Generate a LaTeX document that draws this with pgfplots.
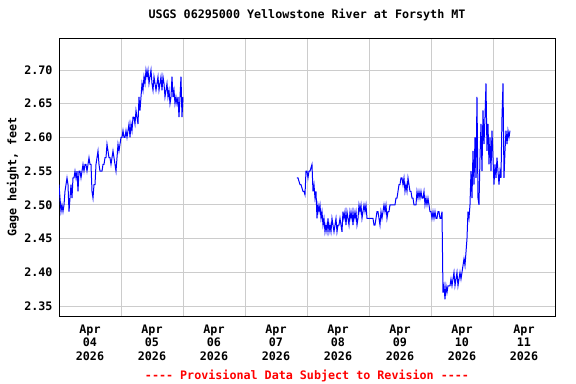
\documentclass[border=0pt]{standalone}
\usepackage{fontspec}
\setmainfont{DejaVu Sans Mono}
\usepackage{pgfplots}
\pgfplotsset{compat=1.18}
\usepackage{pgfplotstable}
\definecolor{gridgray}{RGB}{204,204,204}

% gage height, one reading per 1/62 day, starting Apr 04 00:00
\pgfplotstableread[row sep=\\]{
v\\
2.53\\ 2.51\\ 2.49\\ 2.50\\ 2.49\\ 2.50\\ 2.52\\ 2.53\\ 2.54\\ 2.53\\
2.49\\ 2.51\\ 2.53\\ 2.51\\ 2.54\\ 2.54\\ 2.55\\ 2.54\\ 2.55\\ 2.52\\
2.55\\ 2.55\\ 2.54\\ 2.55\\ 2.56\\ 2.55\\ 2.56\\ 2.56\\ 2.55\\ 2.56\\
2.57\\ 2.56\\ 2.56\\ 2.52\\ 2.51\\ 2.53\\ 2.53\\ 2.56\\ 2.57\\ 2.58\\
2.56\\ 2.55\\ 2.55\\ 2.55\\ 2.56\\ 2.56\\ 2.57\\ 2.57\\ 2.59\\ 2.58\\
2.57\\ 2.57\\ 2.56\\ 2.57\\ 2.58\\ 2.57\\ 2.56\\ 2.55\\ 2.57\\ 2.59\\
2.58\\ 2.59\\ 2.60\\ 2.60\\ 2.61\\ 2.60\\ 2.60\\ 2.61\\ 2.60\\ 2.61\\
2.62\\ 2.60\\ 2.62\\ 2.61\\ 2.63\\ 2.63\\ 2.62\\ 2.64\\ 2.63\\ 2.62\\
2.66\\ 2.64\\ 2.66\\ 2.68\\ 2.67\\ 2.69\\ 2.68\\ 2.70\\ 2.69\\ 2.70\\
2.68\\ 2.69\\ 2.70\\ 2.68\\ 2.67\\ 2.69\\ 2.68\\ 2.67\\ 2.68\\ 2.69\\
2.67\\ 2.68\\ 2.69\\ 2.67\\ 2.69\\ 2.68\\ 2.66\\ 2.67\\ 2.68\\ 2.66\\
2.67\\ 2.65\\ 2.66\\ 2.69\\ 2.66\\ 2.67\\ 2.65\\ 2.66\\ 2.65\\ 2.66\\
2.63\\ 2.66\\ 2.69\\ 2.63\\ 2.66\\
}\segA

% second run, starting at reading 238 (Apr 07 ~20:50)
\pgfplotstableread[row sep=\\]{
v\\
2.54\\ 2.54\\ 2.535\\ 2.53\\ 2.53\\ 2.525\\ 2.52\\ 2.52\\ 2.515\\ 2.55\\
2.55\\ 2.54\\ 2.55\\ 2.55\\ 2.555\\ 2.56\\ 2.52\\ 2.53\\ 2.51\\ 2.52\\
2.48\\ 2.50\\ 2.49\\ 2.50\\ 2.48\\ 2.49\\ 2.47\\ 2.48\\ 2.46\\ 2.47\\
2.46\\ 2.48\\ 2.46\\ 2.47\\ 2.46\\ 2.48\\ 2.47\\ 2.46\\ 2.47\\ 2.48\\
2.46\\ 2.47\\ 2.47\\ 2.48\\ 2.47\\ 2.46\\ 2.49\\ 2.48\\ 2.49\\ 2.47\\
2.49\\ 2.48\\ 2.47\\ 2.49\\ 2.48\\ 2.49\\ 2.47\\ 2.49\\ 2.48\\ 2.49\\
2.47\\ 2.48\\ 2.50\\ 2.49\\ 2.50\\ 2.48\\ 2.49\\ 2.50\\ 2.49\\ 2.50\\
2.48\\ 2.48\\ 2.48\\ 2.48\\ 2.48\\ 2.48\\ 2.48\\ 2.47\\ 2.47\\ 2.48\\
2.49\\ 2.49\\ 2.48\\ 2.47\\ 2.49\\ 2.48\\ 2.49\\ 2.50\\ 2.49\\ 2.50\\
2.48\\ 2.49\\ 2.49\\ 2.50\\ 2.50\\ 2.50\\ 2.50\\ 2.50\\ 2.50\\ 2.51\\
2.51\\ 2.52\\ 2.53\\ 2.53\\ 2.54\\ 2.54\\ 2.53\\ 2.54\\ 2.52\\ 2.53\\
2.52\\ 2.54\\ 2.53\\ 2.52\\ 2.52\\ 2.51\\ 2.51\\ 2.50\\ 2.50\\ 2.50\\
2.52\\ 2.51\\ 2.52\\ 2.51\\ 2.52\\ 2.51\\ 2.51\\ 2.52\\ 2.50\\ 2.51\\
2.50\\ 2.51\\ 2.50\\ 2.49\\ 2.49\\ 2.48\\ 2.49\\ 2.48\\ 2.49\\ 2.48\\
2.48\\ 2.49\\ 2.49\\ 2.48\\ 2.48\\ 2.49\\ 2.37\\ 2.38\\ 2.36\\ 2.38\\
2.37\\ 2.38\\ 2.38\\ 2.38\\ 2.39\\ 2.38\\ 2.39\\ 2.40\\ 2.38\\ 2.39\\
2.40\\ 2.38\\ 2.39\\ 2.40\\ 2.39\\ 2.40\\ 2.41\\ 2.42\\ 2.41\\ 2.43\\
2.45\\ 2.49\\ 2.48\\ 2.50\\ 2.55\\ 2.51\\ 2.58\\ 2.53\\ 2.60\\ 2.54\\
2.66\\ 2.51\\ 2.50\\ 2.57\\ 2.62\\ 2.55\\ 2.64\\ 2.59\\ 2.63\\ 2.68\\
2.58\\ 2.62\\ 2.56\\ 2.60\\ 2.55\\ 2.61\\ 2.57\\ 2.53\\ 2.56\\ 2.54\\
2.57\\ 2.55\\ 2.53\\ 2.55\\ 2.54\\ 2.63\\ 2.68\\ 2.54\\ 2.58\\ 2.61\\
2.59\\ 2.61\\ 2.60\\ 2.61\\
}\segB

\begin{document}
\begin{tikzpicture}[font=\fontsize{11.7bp}{13.5bp}\selectfont\bfseries]
\useasboundingbox (0,0) rectangle (576bp,384bp);
\begin{axis}[
  at={(59bp,68bp)}, anchor=south west,
  scale only axis, width=496bp, height=278bp,
  xmin=0, xmax=8, ymin=2.3352, ymax=2.7475,
  xtick={0.5,1.5,2.5,3.5,4.5,5.5,6.5,7.5},
  xticklabels={Apr\\04\\2026,Apr\\05\\2026,Apr\\06\\2026,Apr\\07\\2026,Apr\\08\\2026,Apr\\09\\2026,Apr\\10\\2026,Apr\\11\\2026},
  minor xtick={1,2,3,4,5,6,7},
  xminorgrids=true, xmajorgrids=false, ymajorgrids=true,
  ytick={2.35,2.40,2.45,2.50,2.55,2.60,2.65,2.70},
  yticklabels={2.35,2.40,2.45,2.50,2.55,2.60,2.65,2.70},
  major tick length=0pt, minor tick length=0pt,
  grid style={gridgray, line width=0.8bp},
  minor grid style={gridgray, line width=0.8bp},
  axis line style={black, line width=0.9bp},
  xticklabel style={align=center, anchor=north, yshift=-5bp},
  yticklabel style={anchor=east, xshift=-3bp},
  title={USGS 06295000 Yellowstone River at Forsyth MT},
  title style={at={(axis description cs:0.5,1)}, anchor=base, yshift=13.7bp},
  xlabel={-{}-{}-{}- Provisional Data Subject to Revision -{}-{}-{}-},
  xlabel style={at={(axis description cs:0.5,0)}, anchor=base, yshift=-63bp, text=red},
  ylabel={Gage height, feet},
  ylabel style={at={(axis description cs:-0.0861,0.5)}, anchor=base, rotate=0},
  clip=true,
]
\addplot[blue, line width=1bp, no markers, sharp plot] table[x expr={\coordindex/62}, y=v]{\segA};
\addplot[blue, line width=1bp, no markers, sharp plot] table[x expr={(238+\coordindex)/62}, y=v]{\segB};
\end{axis}
\end{tikzpicture}
\end{document}
